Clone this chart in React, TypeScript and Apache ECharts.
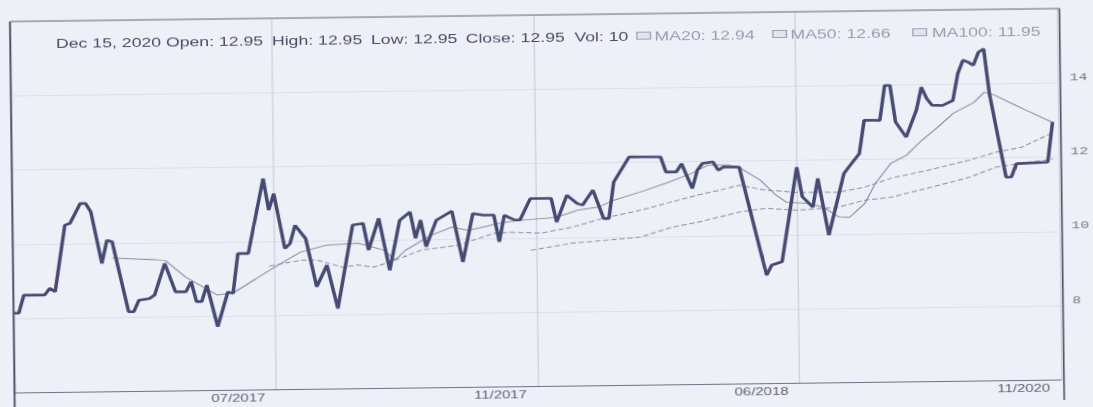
import React, { useEffect, useRef } from "react";
import * as echarts from "echarts";

// ---- data (x = trading-day index on the chart, y = price) ----
const price: [number, number][] = [
  [0, 8.15], [1, 8.15], [2, 8.63], [6, 8.63], [7, 8.81], [8, 8.71], [10, 10.5], [11, 10.55],
  [13, 11.08], [14, 11.08], [15, 10.85], [17, 9.46], [18, 10.08], [19, 10.04], [22, 8.15],
  [23, 8.15], [24, 8.46], [26, 8.5], [27, 8.59], [29, 9.44], [31, 8.67], [33, 8.67], [34, 8.94],
  [35, 8.4], [36, 8.4], [37, 8.84], [39, 7.72], [41, 8.65], [42, 8.61], [43, 9.68], [45, 9.68],
  [48, 11.69], [49, 10.84], [50, 11.28], [52, 9.8], [53, 9.93], [54, 10.42], [56, 10.06],
  [58, 8.76], [60, 9.34], [62, 8.17], [65, 10.41], [67, 10.45], [68, 9.73], [70, 10.58],
  [72, 9.18], [74, 10.52], [76, 10.74], [77, 10.03], [78, 10.52], [79, 9.8], [81, 10.51],
  [84, 10.75], [86, 9.38], [88, 10.68], [90, 10.63], [92, 10.63], [93, 9.91], [94, 10.62],
  [96, 10.49], [97, 10.49], [99, 11.06], [103, 11.06], [104, 10.42], [106, 11.14], [108, 10.91],
  [109, 10.87], [111, 11.27], [113, 10.5], [114, 10.5], [115, 11.48], [118, 12.15], [124, 12.14],
  [125, 11.73], [127, 11.73], [128, 11.95], [130, 11.28], [131, 11.77], [132, 11.95], [134, 11.99],
  [135, 11.76], [136, 11.85], [139, 11.84], [144, 8.92], [145, 9.19], [147, 9.28], [150, 11.82],
  [151, 11.02], [153, 10.74], [154, 11.51], [156, 9.98], [159, 11.63], [160, 11.81], [162, 12.16],
  [163, 13.06], [166, 13.05], [167, 13.99], [168, 13.99], [169, 13.0], [171, 12.59], [173, 13.31],
  [174, 13.93], [175, 13.62], [176, 13.44], [178, 13.43], [180, 13.56], [181, 14.28], [182, 14.64],
  [183, 14.59], [184, 14.5], [185, 14.85], [186, 14.94], [187, 13.73], [190, 11.48], [191, 11.48],
  [192, 11.84], [198, 11.87], [199, 12.95],
];

const ma20: [number, number][] = [
  [19, 9.6], [29, 9.53], [33, 9.06], [39, 8.57], [42, 8.62], [50, 9.3], [55, 9.7], [60, 9.88],
  [66, 9.92], [71, 9.72], [73, 9.45], [75, 9.71], [80, 10.11], [84, 10.32], [87, 10.23],
  [89, 10.28], [93, 10.41], [97, 10.48], [104, 10.55], [108, 10.73], [112, 10.81], [115, 10.99],
  [120, 11.2], [125, 11.43], [130, 11.69], [133, 11.9], [137, 11.9], [139, 11.83], [143, 11.48],
  [146, 11.07], [148, 10.88], [152, 10.84], [155, 10.73], [158, 10.46], [160, 10.45], [163, 10.83],
  [165, 11.36], [168, 11.89], [171, 12.1], [174, 12.5], [177, 12.84], [180, 13.21], [184, 13.5],
  [186, 13.77], [188, 13.69], [194, 13.27], [199, 12.94],
];

const ma50: [number, number][] = [
  [49, 9.33], [55, 9.48], [58, 9.48], [63, 9.28], [66, 9.33], [69, 9.27], [72, 9.4], [78, 9.71],
  [85, 9.83], [92, 10.14], [95, 10.16], [101, 10.13], [107, 10.28], [113, 10.51], [120, 10.71],
  [131, 11.1], [135, 11.22], [139, 11.35], [144, 11.21], [150, 11.14], [158, 11.13], [163, 11.26],
  [168, 11.49], [175, 11.69], [183, 11.95], [188, 12.15], [193, 12.28], [199, 12.66],
];

const ma100: [number, number][] = [
  [99, 9.67], [107, 9.85], [114, 9.92], [120, 9.99], [126, 10.24], [131, 10.37], [135, 10.5],
  [139, 10.63], [144, 10.72], [150, 10.66], [155, 10.7], [158, 10.73], [163, 10.91], [168, 10.98],
  [175, 11.21], [183, 11.49], [188, 11.75], [194, 11.87], [199, 11.95],
];

const xTickIdx = [50, 100, 150, 200];
const xTickLabels = ["07/2017", "11/2017", "06/2018", "11/2020"];
const yTickLabels = [8, 10, 12, 14];

const headerDate = "Dec 15, 2020";
const ohlcNames = ["Open", "High", "Low", "Close", "Vol"];
const ohlcValues = ["12.95", "12.95", "12.95", "12.95", "10"];
const maNames = ["MA20", "MA50", "MA100"];
const maValues = ["12.94", "12.66", "11.95"];

// ---- layout (chart drawn at 804px wide, stretched to 1093px, slightly tilted like the scan) ----
const W = 804;
const H = 407;
const SX = 1093 / W;
const TILT_DEG = -0.71;
const BOX_L = 9;
const BOX_R = 781;
const BOX_T = 15;
const HEADER_Y = 37;
const ohlcX = [42.7, 201.5, 274.4, 344, 424];
const maIconX = [470, 570, 673];
const maTextX = [483, 583, 687];

const BG = "#eef0f7";
const DARK = "#4b4d66";
const LIGHT = "#9a9cb0";
const FONT = '13px "Liberation Sans", Arial, sans-serif';

export default function App() {
  const ref = useRef<HTMLDivElement>(null);

  useEffect(() => {
    document.body.style.background = BG;
    if (!ref.current) return;
    const chart = echarts.init(ref.current, undefined, { renderer: "svg" });

    const graphic: any[] = [];
    graphic.push(
      { type: "line", shape: { x1: BOX_L, y1: BOX_T, x2: BOX_L, y2: H + 10 }, style: { stroke: "#4f5166", lineWidth: 1.4 }, z: 50 },
      { type: "line", shape: { x1: BOX_L, y1: BOX_T, x2: BOX_R, y2: BOX_T }, style: { stroke: "#6a6c80", lineWidth: 1 }, z: 50 },
      { type: "line", shape: { x1: BOX_R, y1: BOX_T, x2: BOX_R, y2: H + 10 }, style: { stroke: "#4f5166", lineWidth: 1.2 }, z: 50 },
    );
    ohlcNames.forEach((n, i) => {
      const t = (i === 0 ? headerDate + " " : "") + n + ": " + ohlcValues[i];
      graphic.push({
        type: "text", x: ohlcX[i], y: HEADER_Y, z: 60,
        style: { text: t, fill: DARK, font: FONT, verticalAlign: "middle" },
      });
    });
    maNames.forEach((n, i) => {
      graphic.push({
        type: "rect", shape: { x: maIconX[i], y: HEADER_Y - 3.5, width: 10, height: 7 }, z: 60,
        style: { fill: "#e3e5ee", stroke: "#9fa2b6", lineWidth: 1 },
      });
      graphic.push({
        type: "text", x: maTextX[i], y: HEADER_Y, z: 60,
        style: { text: n + ": " + maValues[i], fill: LIGHT, font: FONT, verticalAlign: "middle" },
      });
    });

    const option: any = {
      animation: false,
      backgroundColor: "transparent",
      grid: { left: BOX_L, right: W - BOX_R, top: BOX_T, bottom: 20.4 },
      xAxis: {
        type: "value",
        min: 0,
        max: 200,
        interval: 50,
        axisLine: { show: true, lineStyle: { color: "#707286", width: 1 } },
        axisTick: { show: false },
        splitLine: { show: true, lineStyle: { color: "#cfd2de", width: 1 } },
        axisLabel: {
          showMinLabel: false,
          formatter: (v: number) => {
            const k = xTickIdx.indexOf(v);
            return k >= 0 ? xTickLabels[k] : "";
          },
          align: "right",
          padding: [0, 8, 0, 0],
          margin: 2,
          color: "#5d5f72",
          fontSize: 11,
          fontFamily: '"Liberation Sans", Arial, sans-serif',
        },
      },
      yAxis: {
        type: "value",
        position: "right",
        min: 6,
        max: 16,
        interval: 2,
        axisLine: { show: false },
        axisTick: { show: false },
        splitLine: { show: true, lineStyle: { color: "#dde0ea", width: 1 } },
        axisLabel: {
          formatter: (v: number) => (yTickLabels.includes(v) ? String(v) : ""),
          margin: 9,
          verticalAlign: "bottom",
          color: "#77798c",
          fontSize: 11,
          fontFamily: '"Liberation Mono", monospace',
        },
      },
      graphic,
      series: [
        {
          name: "MA100", type: "line", data: ma100, showSymbol: false, z: 3,
          lineStyle: { color: "#8d90a6", width: 1, type: [4, 2] },
        },
        {
          name: "MA50", type: "line", data: ma50, showSymbol: false, z: 3,
          lineStyle: { color: "#8d90a6", width: 1, type: [4, 2] },
        },
        {
          name: "MA20", type: "line", data: ma20, showSymbol: false, z: 3,
          lineStyle: { color: "#8d90a6", width: 1 },
        },
        {
          name: "Price", type: "line", data: price, showSymbol: false, z: 5,
          lineStyle: { color: "#474a72", width: 2.6 },
        },
      ],
    };
    chart.setOption(option);
    return () => chart.dispose();
  }, []);

  return (
    <div
      style={{
        position: "fixed",
        left: 0,
        top: 0,
        width: 1093,
        height: H,
        transform: `rotate(${TILT_DEG}deg)`,
        transformOrigin: "537px 203px",
        background: BG,
      }}
    >
      <div
        style={{
          width: W,
          height: H,
          transform: `scaleX(${SX})`,
          transformOrigin: "0 0",
        }}
      >
        <div ref={ref} style={{ width: W, height: H }} />
      </div>
    </div>
  );
}
